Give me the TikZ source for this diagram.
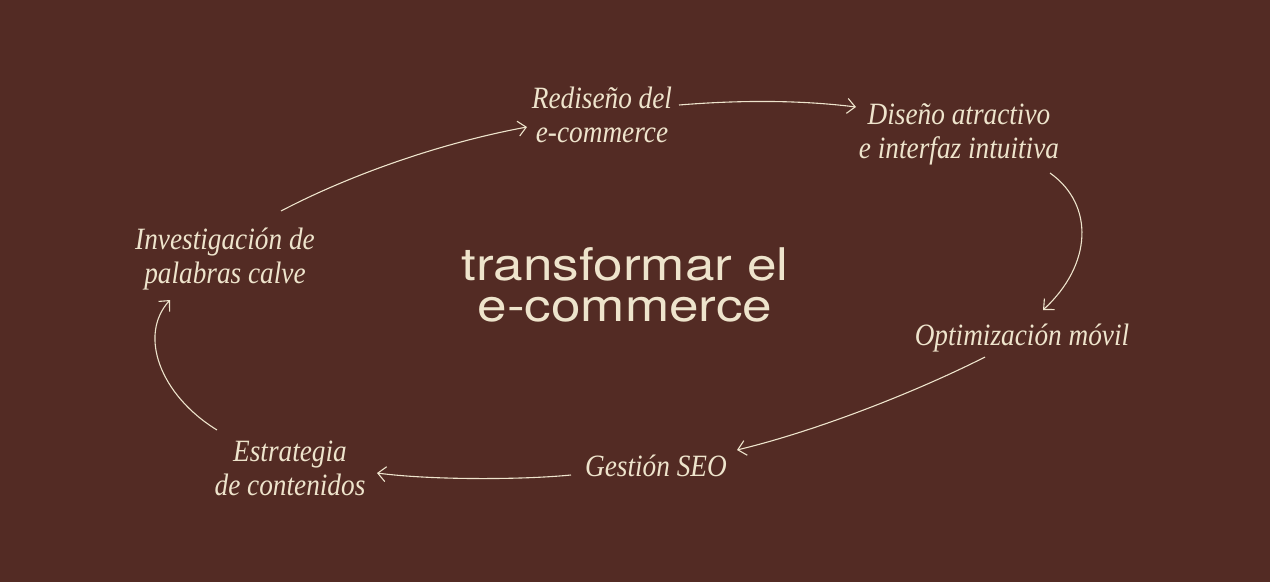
\documentclass[tikz,border=0pt]{standalone}
\usepackage{fontspec}
\newfontfamily\labfont[FakeStretch=0.88]{Liberation Serif}
\newfontfamily\titlefont[FakeStretch=1.18]{TeX Gyre Heros}
\usetikzlibrary{arrows.meta,calc}
\definecolor{bg}{HTML}{532B24}
\definecolor{cream}{HTML}{EEE4CC}
\tikzset{
  lab/.style={font=\labfont\itshape\fontsize{31}{34}\selectfont, text=cream, align=center, inner sep=0pt},
  ttl/.style={font=\titlefont\fontsize{45}{41}\selectfont, text=cream, align=center, inner sep=0pt},
  flow/.style={draw=cream, line width=1.1pt, -{Straight Barb[length=8pt,width=15pt]}}
}
\begin{document}
\begin{tikzpicture}[x=1pt,y=-1pt]
\fill[bg] (0,0) rectangle (1270,582);
\useasboundingbox (0,0) rectangle (1270,582);
\node[ttl] (center) at (625,285) {transformar el\\e-commerce};
\node[lab] (red) at (602,114.5) {Rediseño del\\e-commerce};
\node[lab] (dis) at (959,134) {Diseño atractivo\\e interfaz intuitiva};
\node[lab] (opt) at (1022,338) {Optimización móvil};
\node[lab] (seo) at (656,465.5) {Gestión SEO};
\node[lab] (est) at (290,468) {Estrategia\\de contenidos};
\node[lab] (inv) at (225,259) {Investigación de\\palabras calve};
\draw[flow] ($(inv)+(56,-48)$) .. controls (340,180) and (430,145) .. ($(red)+(-75,12.5)$);
\draw[flow] ($(red)+(77,-9.5)$) .. controls (740,100) and (800,100) .. ($(dis)+(-103,-27)$);
\draw[flow] ($(dis)+(91,39)$) .. controls (1095,205) and (1092,265) .. ($(opt)+(21,-28)$);
\draw[flow] ($(opt)+(-37,19)$) .. controls (920,390) and (820,430) .. ($(seo)+(81,-15.5)$);
\draw[flow] ($(seo)+(-85,9.5)$) .. controls (520,480) and (430,480) .. ($(est)+(87,5)$);
\draw[flow] ($(est)+(-73,-38)$) .. controls (160,395) and (138,335) .. ($(inv)+(-55,41)$);
\end{tikzpicture}
\end{document}
